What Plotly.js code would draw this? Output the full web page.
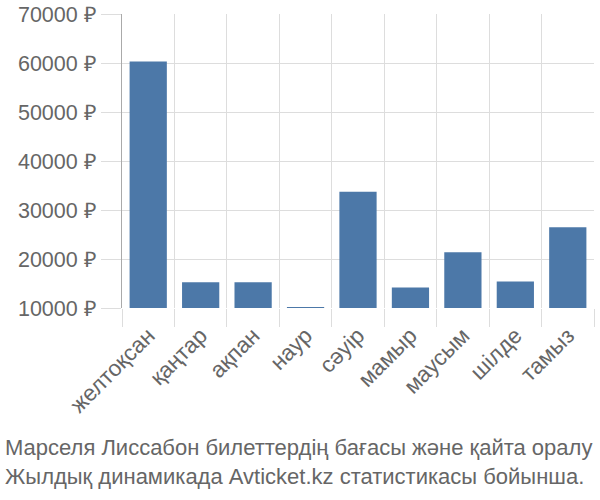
<!DOCTYPE html>
<html><head><meta charset="utf-8">
<script src="https://cdn.plot.ly/plotly-3.0.1.min.js"></script>
<style>body{margin:0;padding:0;}#chart{width:600px;height:500px;}</style>
</head><body><div id="chart"></div>
<script>
const months = ["желтоқсан","қаңтар","ақпан","наур","сәуір","мамыр","маусым","шілде","тамыз"];
const prices = [60300, 15250, 15250, 10200, 33700, 14200, 21400, 15400, 26500];
const yTicks = [10000, 20000, 30000, 40000, 50000, 60000, 70000];
const yTickText = yTicks.map(v => v + " ₽");
const titleLines = ["Марселя Лиссабон билеттердің бағасы және қайта оралу", "Жылдық динамикада Avticket.kz статистикасы бойынша."];

const base = 10000;
const trace = {
  type: "bar",
  x: months,
  y: prices.map(v => v - base),
  base: base,
  marker: {color: "#4c78a8"},
  hoverinfo: "skip"
};
const layout = {
  width: 600, height: 500,
  margin: {l: 122, r: 6, t: 14, b: 192},
  paper_bgcolor: "#fff", plot_bgcolor: "#fff",
  font: {family: "Liberation Sans, Arial, sans-serif", size: 22, color: "#666"},
  bargap: 0.29,
  showlegend: false,
  xaxis: {
    type: "category",
    tickson: "boundaries",
    ticks: "outside", ticklen: 18, tickcolor: "#ddd", tickwidth: 1,
    showgrid: true, gridcolor: "#ddd", gridwidth: 1,
    showline: false,
    tickangle: -45,
    ticklabelstandoff: 9,
    tickfont: {size: 22.5, color: "#666"},
    range: [-0.5, 8.5]
  },
  yaxis: {
    range: [10000, 70000],
    tickvals: yTicks, ticktext: yTickText,
    ticks: "outside", ticklen: 20, tickcolor: "#ddd",
    showgrid: true, gridcolor: "#ddd",
    showline: true, linecolor: "#aaa", linewidth: 1,
    zeroline: false,
    ticklabelstandoff: 0,
    tickfont: {size: 21.5, color: "#666"}
  },
  annotations: [
    {text: titleLines[0], xref: "paper", yref: "paper", x: -119/472, y: 0, xanchor: "left", yanchor: "middle", showarrow: false, font: {size: 22, color: "#666"}},
    {text: titleLines[1], xref: "paper", yref: "paper", x: -119/472, y: 0, xanchor: "left", yanchor: "middle", showarrow: false, font: {size: 22, color: "#666"}}
  ]
};
// place title lines at pixel y ~447 and ~477 (plot spans y 14..308)
layout.annotations[0].y = (308 - 447) / 294;
layout.annotations[1].y = (308 - 477) / 294;
Plotly.newPlot("chart", [trace], layout, {displayModeBar: false, staticPlot: true});
</script></body></html>
